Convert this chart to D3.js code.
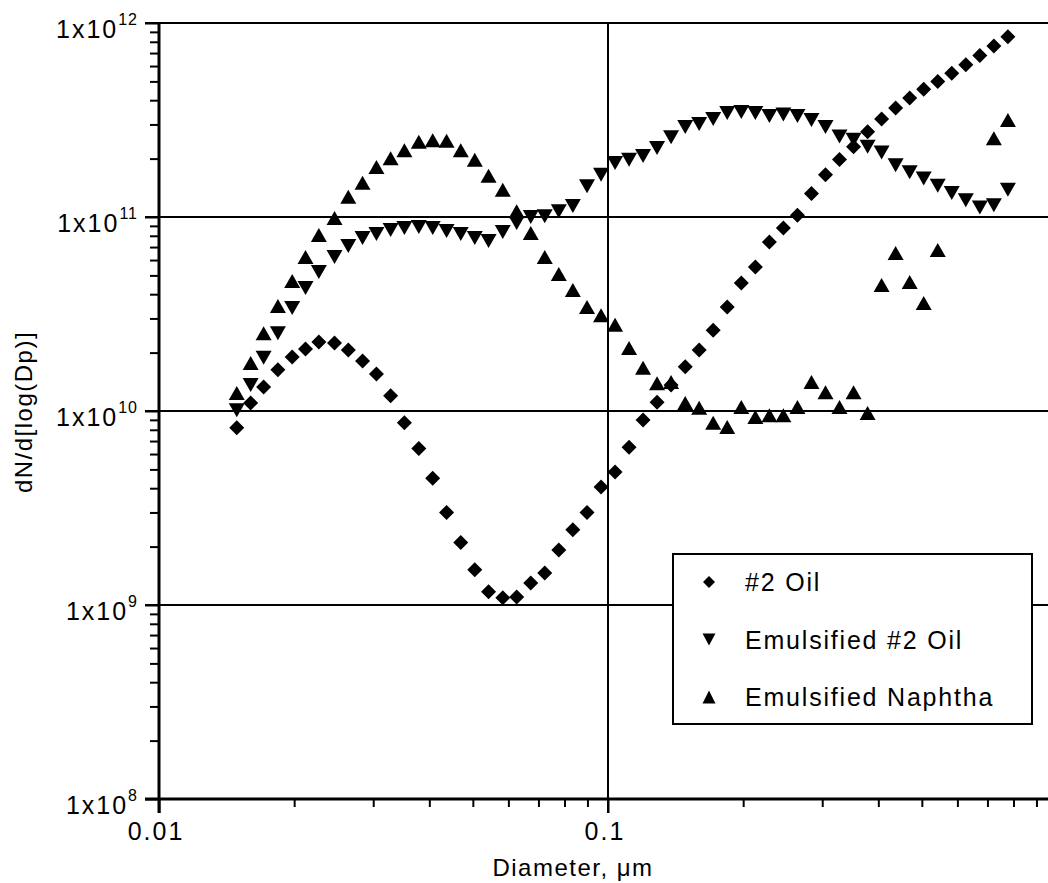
<!DOCTYPE html>
<html>
<head>
<meta charset="UTF-8">
<title>Particle size distribution</title>
<script src="https://cdn.jsdelivr.net/npm/d3@7/dist/d3.min.js"></script>
<style>
  body { margin: 0; background: #fff; }
  text { font-family: "Liberation Sans", Arial, sans-serif; fill: #000; }
</style>
</head>
<body>
<svg id="svg"></svg>
<script>
var WIDTH = 1048, HEIGHT = 883;

// SMPS channel midpoints, um
var diameters = [0.0149, 0.0160, 0.0171, 0.0184, 0.0198, 0.0212, 0.0227, 0.0246, 0.0264, 0.0284,
                 0.0305, 0.0328, 0.0352, 0.0379, 0.0407, 0.0437, 0.0470, 0.0505, 0.0542, 0.0583,
                 0.0626, 0.0673, 0.0723, 0.0777, 0.0835, 0.0898, 0.0965, 0.1037, 0.1114, 0.1197,
                 0.1286, 0.1382, 0.1486, 0.1596, 0.1715, 0.1843, 0.1981, 0.2129, 0.2288, 0.2458,
                 0.2642, 0.2839, 0.3051, 0.3278, 0.3523, 0.3786, 0.4068, 0.4371, 0.4698, 0.5048,
                 0.5425, 0.5829, 0.6264, 0.6732, 0.7234, 0.7774];

var oil2 = [8.2e9, 1.10e10, 1.33e10, 1.63e10, 1.90e10, 2.09e10, 2.27e10, 2.24e10, 2.06e10, 1.81e10,
            1.55e10, 1.20e10, 8.7e9, 6.4e9, 4.5e9, 3.0e9, 2.1e9, 1.52e9, 1.17e9, 1.09e9,
            1.10e9, 1.30e9, 1.46e9, 1.92e9, 2.44e9, 3.0e9, 4.06e9, 4.85e9, 6.5e9, 9.0e9,
            1.11e10, 1.36e10, 1.69e10, 2.06e10, 2.61e10, 3.44e10, 4.57e10, 5.52e10, 7.43e10, 8.78e10,
            1.02e11, 1.32e11, 1.65e11, 1.98e11, 2.30e11, 2.75e11, 3.20e11, 3.65e11, 4.10e11, 4.55e11,
            5.00e11, 5.50e11, 6.10e11, 6.80e11, 7.60e11, 8.50e11];

var emulOil2 = [1.01e10, 1.36e10, 1.88e10, 2.52e10, 3.40e10, 4.31e10, 5.21e10, 6.22e10, 7.09e10, 7.80e10,
                8.17e10, 8.57e10, 8.78e10, 8.88e10, 8.78e10, 8.47e10, 8.17e10, 7.80e10, 7.52e10, 8.37e10,
                9.31e10, 1.00e11, 1.01e11, 1.07e11, 1.14e11, 1.44e11, 1.65e11, 1.90e11, 1.97e11, 2.06e11,
                2.27e11, 2.58e11, 2.91e11, 3.02e11, 3.20e11, 3.44e11, 3.48e11, 3.44e11, 3.32e11, 3.38e11,
                3.32e11, 3.16e11, 2.91e11, 2.60e11, 2.50e11, 2.30e11, 2.15e11, 1.85e11, 1.70e11, 1.58e11,
                1.45e11, 1.33e11, 1.22e11, 1.12e11, 1.15e11, 1.38e11];

var emulNaphtha = [1.24e10, 1.77e10, 2.52e10, 3.48e10, 4.68e10, 6.22e10, 8.07e10, 9.88e10, 1.27e11, 1.50e11,
                   1.81e11, 2.01e11, 2.21e11, 2.44e11, 2.49e11, 2.47e11, 2.21e11, 1.97e11, 1.63e11, 1.38e11,
                   1.07e11, 8.27e10, 6.22e10, 5.08e10, 4.20e10, 3.44e10, 3.12e10, 2.78e10, 2.11e10, 1.67e10,
                   1.39e10, 1.41e10, 1.10e10, 1.04e10, 8.7e9, 8.27e9, 1.05e10, 9.31e9, 9.5e9, 9.5e9,
                   1.05e10, 1.41e10, 1.25e10, 1.05e10, 1.25e10, 9.76e9, 4.46e10, 6.52e10, 4.62e10, 3.60e10,
                   6.76e10, null, null, null, 2.55e11, 3.16e11];

var seriesNames = ["#2 Oil", "Emulsified #2 Oil", "Emulsified Naphtha"];
var yMajor = [1e8, 1e9, 1e10, 1e11, 1e12];
var yExponents = ["8", "9", "10", "11", "12"];
var xLabels = ["0.01", "0.1"];

var svg = d3.select("#svg").attr("width", WIDTH).attr("height", HEIGHT);

var xScale = d3.scaleLog().domain([0.01, 1]).range([159, 1057]);
var yScale = d3.scaleLog().domain([1e8, 1e12]).range([799, 23]);

// minor tick values
var yMinor = [], xMinor = [];
[1e8, 1e9, 1e10, 1e11].forEach(function(b){
    for (var k = 2; k < 10; k++) yMinor.push(b * k);
});
[0.01, 0.1].forEach(function(b){
    for (var k = 2; k < 10; k++) xMinor.push(b * k);
});

// grid lines
svg.append("g").selectAll("line.hgrid")
   .data([1e9, 1e10, 1e11, 1e12])
   .enter().append("line")
   .attr("x1", 145).attr("x2", WIDTH)
   .attr("y1", function(d){ return yScale(d); })
   .attr("y2", function(d){ return yScale(d); })
   .attr("stroke", "#000").attr("stroke-width", 2);

svg.append("line")
   .attr("x1", xScale(0.1)).attr("x2", xScale(0.1))
   .attr("y1", yScale(1e12)).attr("y2", yScale(1e8) + 14)
   .attr("stroke", "#000").attr("stroke-width", 2);

// axes
var yAxisMinor = d3.axisLeft(yScale).tickValues(yMinor).tickSize(9).tickFormat("");
var yAxisMajor = d3.axisLeft(yScale).tickValues(yMajor).tickSize(14).tickFormat("");
var xAxisMinor = d3.axisBottom(xScale).tickValues(xMinor).tickSize(8).tickFormat("");
var xAxisMajor = d3.axisBottom(xScale).tickValues([0.01, 0.1]).tickSize(14).tickFormat("");

[yAxisMinor, yAxisMajor].forEach(function(ax){
    svg.append("g").attr("class", "axis")
       .attr("transform", "translate(" + xScale(0.01) + ",0)")
       .call(ax);
});
[xAxisMinor, xAxisMajor].forEach(function(ax){
    svg.append("g").attr("class", "axis")
       .attr("transform", "translate(0," + yScale(1e8) + ")")
       .call(ax);
});
svg.selectAll(".axis .domain").remove();
svg.selectAll(".axis line").attr("stroke", "#000").attr("stroke-width", 2);

svg.append("line")
   .attr("x1", xScale(0.01)).attr("x2", xScale(0.01))
   .attr("y1", yScale(1e12) - 1).attr("y2", yScale(1e8) + 14)
   .attr("stroke", "#000").attr("stroke-width", 3);
svg.append("line")
   .attr("x1", 145).attr("x2", WIDTH)
   .attr("y1", yScale(1e8)).attr("y2", yScale(1e8))
   .attr("stroke", "#000").attr("stroke-width", 3);

// y tick labels 1x10^n
var yl = svg.append("g").selectAll("text")
   .data(yMajor)
   .enter().append("text")
   .attr("x", 138)
   .attr("y", function(d){ return yScale(d) + 15; })
   .attr("text-anchor", "end")
   .style("font-size", "25px")
   .style("letter-spacing", "2px");
yl.append("tspan").text("1x10");
yl.append("tspan")
  .attr("dy", -13)
  .style("font-size", "16px")
  .style("letter-spacing", "1px")
  .text(function(d, i){ return yExponents[i]; });

// x tick labels
svg.append("g").selectAll("text")
   .data([0.01, 0.1])
   .enter().append("text")
   .attr("x", function(d){ return xScale(d) - 3; })
   .attr("y", 840)
   .attr("text-anchor", "middle")
   .style("font-size", "25px")
   .style("letter-spacing", "2px")
   .text(function(d, i){ return xLabels[i]; });

// axis titles
svg.append("text")
   .attr("x", 573).attr("y", 876)
   .attr("text-anchor", "middle")
   .style("font-size", "24px")
   .style("letter-spacing", "1.5px")
   .text("Diameter, \u03bcm");

svg.append("text")
   .attr("transform", "translate(32,412) rotate(-90)")
   .attr("text-anchor", "middle")
   .style("font-size", "24px")
   .style("letter-spacing", "1.5px")
   .text("dN/d[log(Dp)]");

// marker shapes
function diamond(r){ return "M0," + (-r) + "L" + r + ",0L0," + r + "L" + (-r) + ",0Z"; }
function triDown(w, h){ return "M" + (-w) + "," + (-h) + "L" + w + "," + (-h) + "L0," + h + "Z"; }
function triUp(w, h){ return "M0," + (-h) + "L" + w + "," + h + "L" + (-w) + "," + h + "Z"; }

var shapes = [diamond(7.5), triDown(8, 7), triUp(8, 7)];
var legendShapes = [diamond(6), triDown(6.5, 6), triUp(6.5, 6.5)];
var allSeries = [oil2, emulOil2, emulNaphtha];

allSeries.forEach(function(vals, si){
    var pts = diameters.map(function(d, i){ return [d, vals[i]]; })
                       .filter(function(p){ return p[1] != null; });
    svg.append("g").selectAll("path")
       .data(pts)
       .enter().append("path")
       .attr("d", shapes[si])
       .attr("transform", function(p){
           return "translate(" + xScale(p[0]) + "," + yScale(p[1]) + ")";
       })
       .attr("fill", "#000");
});

// legend
var legend = svg.append("g");
legend.append("rect")
      .attr("x", 673).attr("y", 554)
      .attr("width", 359).attr("height", 170)
      .attr("fill", "#fff").attr("stroke", "#000").attr("stroke-width", 2);
var rows = legend.selectAll("g.row")
      .data(seriesNames)
      .enter().append("g")
      .attr("transform", function(d, i){ return "translate(709," + (582 + i * 57.5) + ")"; });
rows.append("path")
    .attr("d", function(d, i){ return legendShapes[i]; })
    .attr("fill", "#000");
rows.append("text")
    .attr("x", 36).attr("y", 9)
    .style("font-size", "25px")
    .style("letter-spacing", "1.8px")
    .text(function(d){ return d; });
</script>
</body>
</html>
